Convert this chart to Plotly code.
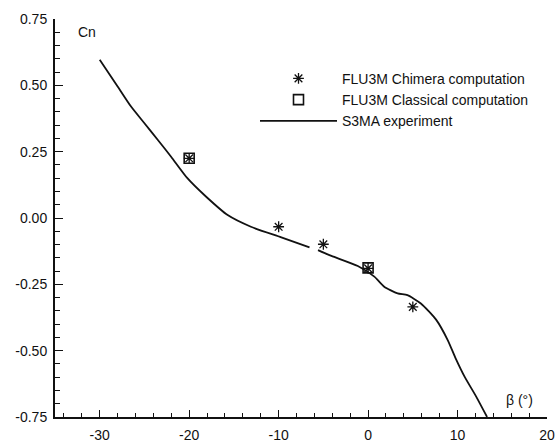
import plotly.graph_objects as go

# S3MA experiment (None = gap in the curve)
beta_exp = [-30, -28, -26.5, -25, -23.5, -22, -20.2, -18.1, -15.7, -13.1, -9.7, -6.55,
            None, -5.6, -4.1, -1.15, 0.7, 1.8, 3.3, 4.4, 5.9, 7.6, 8.9, 9.8, 10.8, 12.1, 13.3]
cn_exp = [0.596, 0.496, 0.42, 0.357, 0.294, 0.230, 0.150, 0.080, 0.011, -0.033, -0.073, -0.111,
          None, -0.121, -0.143, -0.181, -0.221, -0.259, -0.284, -0.291, -0.322, -0.383, -0.46,
          -0.53, -0.599, -0.674, -0.75]

# FLU3M Chimera computation
chimera_beta = [-20, -10, -5, 0, 5]
chimera_cn = [0.225, -0.033, -0.099, -0.19, -0.335]

# FLU3M Classical computation
classical_beta = [-20, 0]
classical_cn = [0.225, -0.188]

x_ticks = [-30, -20, -10, 0, 10, 20]
x_labels = ["-30", "-20", "-10", "0", "10", "20"]
y_ticks = [-0.75, -0.5, -0.25, 0.0, 0.25, 0.5, 0.75]
y_labels = ["-0.75", "-0.50", "-0.25", "0.00", "0.25", "0.50", "0.75"]

font = dict(family="Liberation Sans, Arial, sans-serif", size=14, color="#111")

fig = go.Figure()
fig.add_trace(go.Scatter(
    x=chimera_beta, y=chimera_cn, mode="markers", name="FLU3M Chimera computation",
    marker=dict(symbol="asterisk-open", size=9, color="#111", line=dict(width=1.3, color="#111")),
))
fig.add_trace(go.Scatter(
    x=classical_beta, y=classical_cn, mode="markers", name="FLU3M Classical computation",
    marker=dict(symbol="square-open", size=10, color="#111", line=dict(width=1.6, color="#111")),
))
fig.add_trace(go.Scatter(
    x=beta_exp, y=cn_exp, mode="lines", name="S3MA experiment",
    line=dict(color="#111", width=1.8, shape="spline", smoothing=0.6), connectgaps=False,
))

fig.update_layout(
    width=556, height=443,
    margin=dict(l=55, r=9, t=19, b=26, autoexpand=False),
    paper_bgcolor="white", plot_bgcolor="white",
    font=font,
    showlegend=True,
    legend=dict(x=0.4065, y=0.89, xanchor="left", yanchor="top",
                bgcolor="rgba(0,0,0,0)", font=font, itemwidth=77,
                tracegroupgap=0),
    xaxis=dict(range=[-35, 20], showgrid=False, zeroline=False, showline=True,
               linecolor="#111", linewidth=2, ticks="inside", ticklen=7, tickwidth=1.2,
               tickcolor="#111", tickvals=x_ticks, ticktext=x_labels, automargin=False,
               minor=dict(dtick=2, tick0=0, ticks="inside", ticklen=4, tickcolor="#111"),
               tickfont=font, ticklabelstandoff=4),
    yaxis=dict(range=[-0.75, 0.75], showgrid=False, zeroline=False, showline=True,
               linecolor="#111", linewidth=2, ticks="inside", ticklen=8, tickwidth=1.2,
               tickcolor="#111", tickvals=y_ticks, ticktext=y_labels, automargin=False,
               minor=dict(dtick=0.05, tick0=0, ticks="inside", ticklen=5, tickcolor="#111"),
               tickfont=font, ticklabelstandoff=3),
    annotations=[
        dict(text="Cn", x=-32.6, y=0.70, xref="x", yref="y", showarrow=False,
             xanchor="left", yanchor="middle", font=font),
        dict(text="β (°)", x=18.7, y=-0.685, xref="x", yref="y", showarrow=False,
             xanchor="right", yanchor="middle", font=font),
    ],
)

# remove the browser's default 8px body margin so the figure sits at the window origin
fig.write_html("out.html", config={"displayModeBar": False},
               post_script="document.body.style.margin='0px';")
